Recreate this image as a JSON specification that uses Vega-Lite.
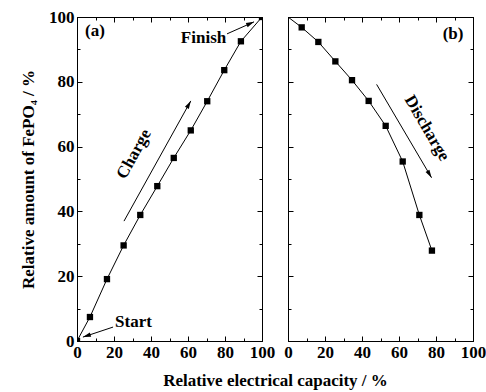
{
  "$schema": "https://vega.github.io/schema/vega-lite/v6.json",
  "background": "white",
  "padding": {"left": 19, "top": 7, "right": 5, "bottom": 1},
  "config": {
    "view": {"stroke": "black", "strokeWidth": 1},
    "font": "Liberation Serif",
    "axis": {
      "grid": false,
      "domainColor": "black",
      "domainWidth": 1,
      "tickColor": "black",
      "tickWidth": 1,
      "labelFont": "Liberation Serif",
      "labelFontWeight": "bold",
      "labelFontSize": 17,
      "labelColor": "black",
      "titleFont": "Liberation Serif",
      "titleFontWeight": "bold",
      "titleFontSize": 17,
      "titleColor": "black"
    }
  },
  "datasets": {
    "charge": [
      {"x": 0, "y": 0}, {"x": 7.0, "y": 7.4}, {"x": 16.2, "y": 19.1}, {"x": 25.2, "y": 29.5},
      {"x": 34.2, "y": 38.9}, {"x": 43.4, "y": 47.8}, {"x": 52.3, "y": 56.5}, {"x": 61.5, "y": 65.0},
      {"x": 70.4, "y": 74.0}, {"x": 79.6, "y": 83.6}, {"x": 88.6, "y": 92.5}, {"x": 100, "y": 100}
    ],
    "discharge": [
      {"x": 0, "y": 100}, {"x": 7.4, "y": 96.8}, {"x": 16.4, "y": 92.3}, {"x": 25.6, "y": 86.3},
      {"x": 34.6, "y": 80.5}, {"x": 43.6, "y": 74.1}, {"x": 52.8, "y": 66.4}, {"x": 62.0, "y": 55.4},
      {"x": 71.0, "y": 38.9}, {"x": 77.8, "y": 27.9}
    ],
    "arrowsA": [
      {"x": 25.4, "y": 37.0, "x2": 61.5, "y2": 74.1},
      {"x": 81.1, "y": 94.8, "x2": 95.7, "y2": 98.5},
      {"x": 19.5, "y": 4.3, "x2": 3.2, "y2": 1.2}
    ],
    "labelsA": [
      {"x": 68.4, "y": 93.5, "label": "Finish"},
      {"x": 30.5, "y": 5.9, "label": "Start"},
      {"x": 9.7, "y": 95.7, "label": "(a)"}
    ]
  },
  "bounds": "flush",
  "spacing": 26,
  "hconcat": [
    {
      "width": 185,
      "height": 324,
      "resolve": {"axis": {"x": "independent", "y": "independent"}},
      "layer": [
        {
          "data": {"name": "charge"},
          "mark": {"type": "line", "color": "black", "strokeWidth": 1, "clip": true},
          "encoding": {
            "x": {"field": "x", "type": "quantitative", "scale": {"domain": [0, 100], "nice": false},
              "axis": {"title": "Relative electrical capacity / %", "titleX": 198, "titlePadding": 10, "values": [0,10,20,30,40,50,60,70,80,90,100], "labelExpr": "datum.value % 20 == 0 ? datum.label : ''", "labelPadding": 8, "tickSize": {"condition": {"test": "datum.value % 20 == 0", "value": -5}, "value": -3}, "labelFlush": false, "labelOverlap": false}},
            "y": {"field": "y", "type": "quantitative", "scale": {"domain": [0, 100], "nice": false},
              "axis": {"title": "Relative amount of FePO₄ / %", "titlePadding": 11, "values": [0,10,20,30,40,50,60,70,80,90,100], "labelExpr": "datum.value % 20 == 0 ? datum.label : ''", "labelPadding": 8, "tickSize": {"condition": {"test": "datum.value % 20 == 0", "value": -5}, "value": -3}, "labelFlush": false, "labelOverlap": false}}
          }
        },
        {
          "data": {"name": "charge"},
          "mark": {"type": "point", "shape": "square", "filled": true, "color": "black", "size": 40, "opacity": 1, "clip": true},
          "encoding": {
            "x": {"field": "x", "type": "quantitative",
              "axis": {"orient": "top", "title": null, "labels": false, "values": [0,10,20,30,40,50,60,70,80,90,100], "tickSize": {"condition": {"test": "datum.value % 20 == 0", "value": -5}, "value": -3}}},
            "y": {"field": "y", "type": "quantitative",
              "axis": {"orient": "right", "title": null, "labels": false, "values": [0,10,20,30,40,50,60,70,80,90,100], "tickSize": {"condition": {"test": "datum.value % 20 == 0", "value": -5}, "value": -3}}}
          }
        },
        {
          "data": {"name": "arrowsA"},
          "mark": {"type": "rule", "color": "black", "strokeWidth": 1},
          "encoding": {
            "x": {"field": "x", "type": "quantitative", "axis": null},
            "y": {"field": "y", "type": "quantitative", "axis": null},
            "x2": {"field": "x2"},
            "y2": {"field": "y2"}
          }
        },
        {
          "data": {"values": [{"x": 61.5, "y": 74.1}]},
          "mark": {"type": "point", "shape": "M0,0L-0.28,1L0.28,1Z", "filled": true, "color": "black", "opacity": 1, "size": 256, "angle": 29},
          "encoding": {"x": {"field": "x", "type": "quantitative", "axis": null}, "y": {"field": "y", "type": "quantitative", "axis": null}}
        },
        {
          "data": {"values": [{"x": 95.7, "y": 98.5}]},
          "mark": {"type": "point", "shape": "M0,0L-0.28,1L0.28,1Z", "filled": true, "color": "black", "opacity": 1, "size": 256, "angle": 66},
          "encoding": {"x": {"field": "x", "type": "quantitative", "axis": null}, "y": {"field": "y", "type": "quantitative", "axis": null}}
        },
        {
          "data": {"values": [{"x": 3.2, "y": 1.2}]},
          "mark": {"type": "point", "shape": "M0,0L-0.28,1L0.28,1Z", "filled": true, "color": "black", "opacity": 1, "size": 256, "angle": 252},
          "encoding": {"x": {"field": "x", "type": "quantitative", "axis": null}, "y": {"field": "y", "type": "quantitative", "axis": null}}
        },
        {
          "data": {"name": "labelsA"},
          "mark": {"type": "text", "font": "Liberation Serif", "fontWeight": "bold", "fontSize": 17, "color": "black", "align": "center", "baseline": "middle"},
          "encoding": {
            "x": {"field": "x", "type": "quantitative", "axis": null},
            "y": {"field": "y", "type": "quantitative", "axis": null},
            "text": {"field": "label"}
          }
        },
        {
          "data": {"values": [{"x": 30.8, "y": 57.7, "label": "Charge"}]},
          "mark": {"type": "text", "font": "Liberation Serif", "fontWeight": "bold", "fontSize": 17, "color": "black", "align": "center", "baseline": "middle", "angle": -61},
          "encoding": {
            "x": {"field": "x", "type": "quantitative", "axis": null},
            "y": {"field": "y", "type": "quantitative", "axis": null},
            "text": {"field": "label"}
          }
        }
      ]
    },
    {
      "width": 185,
      "height": 324,
      "resolve": {"axis": {"x": "independent", "y": "independent"}},
      "layer": [
        {
          "data": {"name": "discharge"},
          "mark": {"type": "line", "color": "black", "strokeWidth": 1, "clip": true},
          "encoding": {
            "x": {"field": "x", "type": "quantitative", "scale": {"domain": [0, 100], "nice": false},
              "axis": {"title": null, "values": [0,10,20,30,40,50,60,70,80,90,100], "labelExpr": "datum.value % 20 == 0 ? datum.label : ''", "labelPadding": 8, "tickSize": {"condition": {"test": "datum.value % 20 == 0", "value": -5}, "value": -3}, "labelFlush": false, "labelOverlap": false}},
            "y": {"field": "y", "type": "quantitative", "scale": {"domain": [0, 100], "nice": false},
              "axis": {"title": null, "labels": false, "values": [0,10,20,30,40,50,60,70,80,90,100], "tickSize": {"condition": {"test": "datum.value % 20 == 0", "value": -5}, "value": -3}}}
          }
        },
        {
          "data": {"name": "discharge"},
          "transform": [{"filter": "datum.x > 0"}],
          "mark": {"type": "point", "shape": "square", "filled": true, "color": "black", "size": 40, "opacity": 1, "clip": true},
          "encoding": {
            "x": {"field": "x", "type": "quantitative",
              "axis": {"orient": "top", "title": null, "labels": false, "values": [0,10,20,30,40,50,60,70,80,90,100], "tickSize": {"condition": {"test": "datum.value % 20 == 0", "value": -5}, "value": -3}}},
            "y": {"field": "y", "type": "quantitative",
              "axis": {"orient": "right", "title": null, "labels": false, "values": [0,10,20,30,40,50,60,70,80,90,100], "tickSize": {"condition": {"test": "datum.value % 20 == 0", "value": -5}, "value": -3}}}
          }
        },
        {
          "data": {"values": [{"x": 47.9, "y": 79.2, "x2": 77.6, "y2": 50.4}]},
          "mark": {"type": "rule", "color": "black", "strokeWidth": 1},
          "encoding": {
            "x": {"field": "x", "type": "quantitative", "axis": null},
            "y": {"field": "y", "type": "quantitative", "axis": null},
            "x2": {"field": "x2"},
            "y2": {"field": "y2"}
          }
        },
        {
          "data": {"values": [{"x": 77.6, "y": 50.4}]},
          "mark": {"type": "point", "shape": "M0,0L-0.28,1L0.28,1Z", "filled": true, "color": "black", "opacity": 1, "size": 256, "angle": 149.5},
          "encoding": {"x": {"field": "x", "type": "quantitative", "axis": null}, "y": {"field": "y", "type": "quantitative", "axis": null}}
        },
        {
          "data": {"values": [{"x": 89.2, "y": 94.8, "label": "(b)"}]},
          "mark": {"type": "text", "font": "Liberation Serif", "fontWeight": "bold", "fontSize": 17, "color": "black", "align": "center", "baseline": "middle"},
          "encoding": {
            "x": {"field": "x", "type": "quantitative", "axis": null},
            "y": {"field": "y", "type": "quantitative", "axis": null},
            "text": {"field": "label"}
          }
        },
        {
          "data": {"values": [{"x": 75.1, "y": 65.7, "label": "Discharge"}]},
          "mark": {"type": "text", "font": "Liberation Serif", "fontWeight": "bold", "fontSize": 17, "color": "black", "align": "center", "baseline": "middle", "angle": 59.5},
          "encoding": {
            "x": {"field": "x", "type": "quantitative", "axis": null},
            "y": {"field": "y", "type": "quantitative", "axis": null},
            "text": {"field": "label"}
          }
        }
      ]
    }
  ]
}
